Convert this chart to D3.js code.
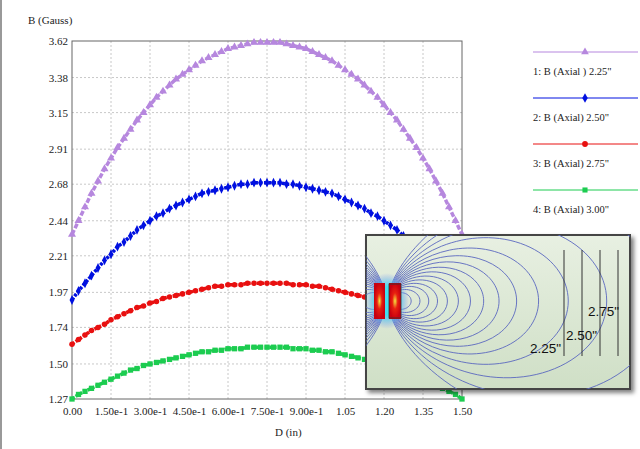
<!DOCTYPE html>
<html><head><meta charset="utf-8">
<script src="https://cdn.jsdelivr.net/npm/d3@7"></script>
<style>body{margin:0;background:#fff}svg{display:block;font-family:"Liberation Serif",serif}</style>
</head><body><div id="chart"></div>
<script>
// x positions (in) of the samples
var xs = d3.range(61).map(function(i){ return +(i * 0.025).toFixed(3); });
var yTicks = [1.27, 1.50, 1.74, 1.97, 2.21, 2.44, 2.68, 2.91, 3.15, 3.38, 3.62];
var xTicks = [0, 0.15, 0.30, 0.45, 0.60, 0.75, 0.90, 1.05, 1.20, 1.35, 1.50];
var xTickLabels = ["0.00","1.50e-1","3.00e-1","4.50e-1","6.00e-1","7.50e-1","9.00e-1","1.05","1.20","1.35","1.50"];
var seriesNames = ["1: B (Axial ) 2.25\"", "2: B (Axial) 2.50\"", "3: B (Axial) 2.75\"", "4: B (Axial) 3.00\""];
var b225 = [2.35,2.44,2.53,2.62,2.70,2.78,2.85,2.92,2.98,3.04,3.10,3.15,3.20,3.25,3.29,3.33,3.37,3.40,3.43,3.46,3.49,3.51,3.53,3.55,3.57,3.58,3.59,3.60,3.61,3.61,3.61,
            3.61,3.61,3.60,3.59,3.58,3.57,3.55,3.53,3.51,3.49,3.46,3.43,3.40,3.37,3.33,3.29,3.25,3.20,3.15,3.10,3.04,2.98,2.92,2.85,2.78,2.70,2.62,2.53,2.44,2.35];
var b250 = [1.92,1.98,2.03,2.08,2.13,2.18,2.22,2.27,2.30,2.34,2.38,2.41,2.44,2.47,2.49,2.52,2.54,2.56,2.58,2.60,2.62,2.63,2.64,2.65,2.66,2.67,2.68,2.68,2.69,2.69,2.69,
            2.69,2.69,2.68,2.68,2.67,2.66,2.65,2.64,2.63,2.62,2.60,2.58,2.56,2.54,2.52,2.49,2.47,2.44,2.41,2.38,2.34,2.30,2.27,2.22,2.18,2.13,2.08,2.03,1.98,1.92];
var b275 = [1.63,1.66,1.69,1.72,1.74,1.76,1.79,1.81,1.83,1.85,1.87,1.88,1.90,1.91,1.93,1.94,1.95,1.96,1.97,1.98,1.99,2.00,2.01,2.01,2.02,2.02,2.02,2.03,2.03,2.03,2.03,
            2.03,2.03,2.03,2.02,2.02,2.02,2.01,2.01,2.00,1.99,1.98,1.97,1.96,1.95,1.94,1.93,1.91,1.90,1.88,1.87,1.85,1.83,1.81,1.79,1.76,1.74,1.72,1.69,1.66,1.63];
var b300 = [1.27,1.30,1.32,1.34,1.36,1.38,1.40,1.42,1.44,1.46,1.47,1.49,1.50,1.51,1.52,1.53,1.54,1.55,1.56,1.57,1.58,1.58,1.59,1.59,1.60,1.60,1.60,1.61,1.61,1.61,1.61,
            1.61,1.61,1.61,1.60,1.60,1.60,1.59,1.59,1.58,1.58,1.57,1.56,1.55,1.54,1.53,1.52,1.51,1.50,1.49,1.47,1.46,1.44,1.42,1.40,1.38,1.36,1.34,1.32,1.30,1.27];
var seriesValues = [b225, b250, b275, b300];
var colors = ["#b687de", "#0010e0", "#e81010", "#1ccc50"];
var symbols = [d3.symbolTriangle, d3.symbolDiamond, d3.symbolCircle, d3.symbolSquare];
var insetLabels = ["2.25\"", "2.50\"", "2.75\""];

var W = 640, H = 449;
var svg = d3.select("#chart").append("svg").attr("width", W).attr("height", H);
svg.append("line").attr("x1",1).attr("x2",1).attr("y1",0).attr("y2",H).attr("stroke","#999").attr("stroke-width",2);

var x = d3.scaleLinear().domain([0, 1.5]).range([72, 462]);
var y = d3.scaleLinear().domain([1.27, 3.62]).range([399, 41]);

// grid
svg.append("g").selectAll("line").data(xTicks.slice(1, -1)).enter().append("line")
  .attr("x1", x).attr("x2", x).attr("y1", 41).attr("y2", 399)
  .attr("stroke", "#c8c8c8").attr("stroke-dasharray", "2,2");
svg.append("g").selectAll("line").data(yTicks.slice(1, -1)).enter().append("line")
  .attr("y1", y).attr("y2", y).attr("x1", 72).attr("x2", 462)
  .attr("stroke", "#c8c8c8").attr("stroke-dasharray", "2,2");
svg.append("rect").attr("x",72).attr("y",41).attr("width",390).attr("height",358)
  .attr("fill","none").attr("stroke","#666");

var xAxis = svg.append("g").attr("transform","translate(0,399)")
  .call(d3.axisBottom(x).tickValues(xTicks).tickSize(0).tickPadding(8)
    .tickFormat(function(d,i){ return xTickLabels[i]; }));
var yAxis = svg.append("g").attr("transform","translate(72,0)")
  .call(d3.axisLeft(y).tickValues(yTicks).tickSize(0).tickPadding(4).tickFormat(d3.format(".2f")));
[xAxis, yAxis].forEach(function(a){
  a.select(".domain").remove();
  a.selectAll("text").attr("font-family","Liberation Serif, serif").attr("font-size",11).attr("fill","#222");
});
svg.append("text").attr("x",28).attr("y",24).attr("font-size",11).attr("fill","#222").text("B (Gauss)");
svg.append("text").attr("x",275).attr("y",436).attr("font-size",11).attr("fill","#222").text("D (in)");

// series: dense markers, a thick same-colour line fills the gaps between them
var line = d3.line().x(function(d,i){ return x(xs[i]); }).y(function(d){ return y(d); });
seriesValues.forEach(function(vals, s){
  svg.append("path").attr("d", line(vals)).attr("fill","none").attr("stroke", colors[s])
    .attr("stroke-width", 3.5).attr("stroke-dasharray", s === 0 ? "5,2" : "3,1.5");
  svg.append("g").selectAll("path").data(vals).enter().append("path")
    .attr("d", d3.symbol().type(symbols[s]).size(s === 2 ? 24 : 28))
    .attr("transform", function(d,i){ return "translate(" + x(xs[i]) + "," + y(d) + ")" + (s === 1 ? " scale(0.85,1)" : ""); })
    .attr("fill", colors[s]);
});

// legend
seriesNames.forEach(function(name, s){
  var ly = 52 + s * 46;
  svg.append("line").attr("x1",533).attr("x2",638).attr("y1",ly).attr("y2",ly).attr("stroke",colors[s]);
  svg.append("path").attr("d", d3.symbol().type(symbols[s]).size(26)())
    .attr("transform","translate(585," + ly + ")").attr("fill", colors[s]);
  svg.append("text").attr("x",533).attr("y",ly+23).attr("font-size",10.5).attr("fill","#222").text(name);
});

// inset picture of the field
var ix = 366, iy = 235, iw = 264, ih = 154;
var defs = svg.append("defs");
var bg = defs.append("linearGradient").attr("id","bg").attr("x1",0).attr("y1",0).attr("x2",0).attr("y2",1);
bg.append("stop").attr("offset",0).attr("stop-color","#e8f0e2");
bg.append("stop").attr("offset",1).attr("stop-color","#cfdfc6");
var hot = defs.append("radialGradient").attr("id","hot");
hot.append("stop").attr("offset",0).attr("stop-color","#f4e640");
hot.append("stop").attr("offset",0.45).attr("stop-color","#e82010");
hot.append("stop").attr("offset",1).attr("stop-color","#c80010");
var glow = defs.append("radialGradient").attr("id","glow");
glow.append("stop").attr("offset",0.5).attr("stop-color","#40e0f0");
glow.append("stop").attr("offset",1).attr("stop-color","#8090f0").attr("stop-opacity",0);
defs.append("clipPath").attr("id","clip").append("rect").attr("x",ix).attr("y",iy).attr("width",iw).attr("height",ih);
defs.append("filter").attr("id","sh").append("feDropShadow").attr("dx",3).attr("dy",3).attr("stdDeviation",2).attr("flood-opacity",0.5);

svg.append("rect").attr("x",ix).attr("y",iy).attr("width",iw).attr("height",ih)
  .attr("fill","url(#bg)").attr("stroke","#444").attr("stroke-width",2).attr("filter","url(#sh)");
var inset = svg.append("g").attr("clip-path","url(#clip)");
var cx = 387, cy = 301;
var lineGen = d3.line().curve(d3.curveBasis);
var fieldC = [22, 30, 38, 46, 55, 65, 76, 88, 102, 118, 138, 165, 200, 250, 320];
fieldC.forEach(function(C){
  [1, -1].forEach(function(side){
    var pts = d3.range(0, 181, 3).map(function(a){
      var t = a * Math.PI / 180, r = C * Math.pow(Math.sin(t), 2);
      return [cx + side * r * Math.sin(t) * 1.1, cy - r * Math.cos(t)];
    });
    inset.append("path").attr("d", lineGen(pts)).attr("fill","none").attr("stroke","#5a68c0").attr("stroke-width",0.9);
  });
});
inset.append("ellipse").attr("cx",cx).attr("cy",cy).attr("rx",22).attr("ry",28).attr("fill","url(#glow)");
[[374, 11], [389, 12]].forEach(function(m){
  inset.append("rect").attr("x",m[0]).attr("y",283).attr("width",m[1]).attr("height",36).attr("fill","url(#hot)");
});
inset.append("rect").attr("x",389).attr("y",284).attr("width",12).attr("height",34).attr("fill","none").attr("stroke","#333").attr("stroke-width",0.8);
[564, 582, 600, 618].forEach(function(vx){
  inset.append("line").attr("x1",vx).attr("x2",vx).attr("y1",250).attr("y2",356).attr("stroke","#333").attr("stroke-width",1);
});
[[530,353],[566,340],[588,316]].forEach(function(p,i){
  inset.append("text").attr("x",p[0]).attr("y",p[1]).attr("font-family","Liberation Sans, Arial, sans-serif")
    .attr("font-size",13.5).attr("fill","#111").text(insetLabels[i]);
});
</script></body></html>
